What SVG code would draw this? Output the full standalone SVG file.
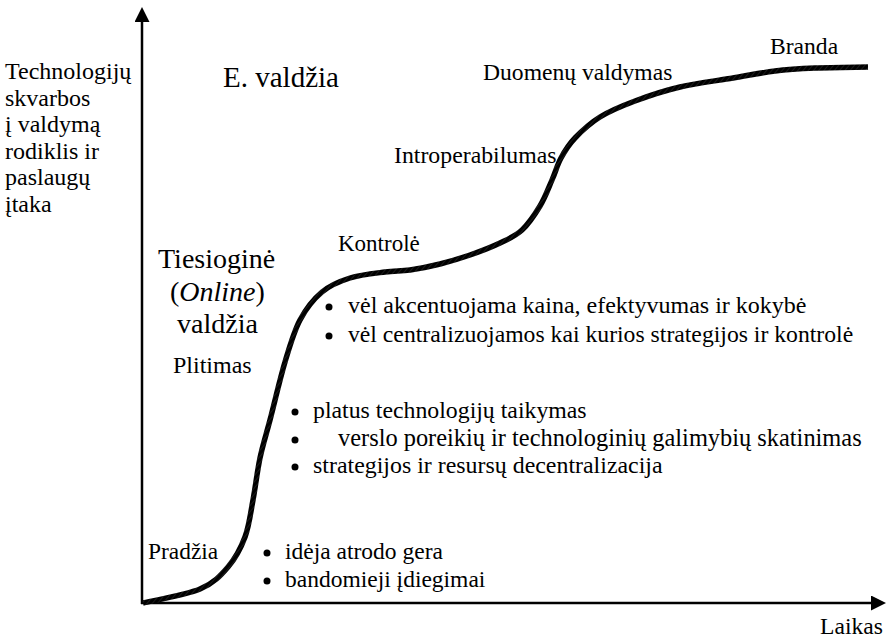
<svg xmlns="http://www.w3.org/2000/svg" width="890" height="639" viewBox="0 0 890 639">
  <style>
    .axis { stroke: #000; stroke-width: 2.5; fill: none; }
    .curve { stroke: url(#rope); stroke-width: 5.5; fill: none; stroke-linecap: butt; stroke-linejoin: round; }
    .dot { fill: #000; }
  </style>
  <defs>
    <marker id="arrow" viewBox="0 0 15 15" refX="0" refY="7.5" markerWidth="15" markerHeight="15" markerUnits="userSpaceOnUse" orient="auto">
      <path d="M0,0 L15,7.5 L0,15 Z" fill="#000"/>
    </marker>
    <!-- twisted-rope texture for the growth curve -->
    <pattern id="rope" patternUnits="userSpaceOnUse" width="4" height="4" patternTransform="rotate(40)">
      <rect width="4" height="4" fill="#000"/>
      <line x1="0" y1="0" x2="0" y2="4" stroke="#5a5a5a" stroke-width="0.6"/>
    </pattern>
  </defs>

  <g id="connectors">
    <line class="axis" x1="142" y1="604" x2="142" y2="22" marker-end="url(#arrow)"/>
    <line class="axis" x1="141" y1="603" x2="871" y2="603" marker-end="url(#arrow)"/>
    <path id="growth-curve" class="curve" d="M143,603 C152.5,600.7 185.8,595 200,589 C214.2,583 220.5,575.7 228,567 C235.5,558.3 240.8,548.2 245,537 C249.2,525.8 250.5,513.2 253,500 C255.5,486.8 257.2,471.3 260,458 C262.8,444.7 265.8,436 270,420 C274.2,404 280,378.7 285,362 C290,345.3 293.8,331.7 300,320 C306.2,308.3 313.7,299 322,292 C330.3,285 339.5,281.3 350,278 C360.5,274.7 375,273.3 385,272 C395,270.7 400.8,271.3 410,270 C419.2,268.7 430,266.5 440,264 C450,261.5 460,258.5 470,255 C480,251.5 491.3,247.2 500,243 C508.7,238.8 515.3,236.2 522,230 C528.7,223.8 535,214.3 540,206 C545,197.7 548.5,188 552,180 C555.5,172 557.2,165 561,158 C564.8,151 568.5,144.8 575,138 C581.5,131.2 590,123.2 600,117 C610,110.8 621.7,106 635,101 C648.3,96 663.7,90.8 680,87 C696.3,83.2 717.2,80.7 733,78 C748.8,75.3 761.3,72.7 775,71 C788.7,69.3 799.5,68.7 815,68 C830.5,67.3 859.2,67.2 868,67"/>
  </g>

  <g id="y-axis-label">
    <text x="5" y="79" font-size="24" font-family="Liberation Serif">Technologijų</text>
    <text x="5" y="106" font-size="24" font-family="Liberation Serif">skvarbos</text>
    <text x="5" y="132" font-size="24" font-family="Liberation Serif">į valdymą</text>
    <text x="5" y="159" font-size="24" font-family="Liberation Serif">rodiklis ir</text>
    <text x="5" y="185" font-size="24" font-family="Liberation Serif">paslaugų</text>
    <text x="5" y="212" font-size="24" font-family="Liberation Serif">įtaka</text>
  </g>

  <g id="x-axis-label">
    <text x="820" y="634" font-size="23.6" font-family="Liberation Serif">Laikas</text>
  </g>

  <g id="e-government">
    <text x="223" y="87" font-size="29" font-family="Liberation Serif">E. valdžia</text>
  </g>

  <g id="online-government">
    <text x="158" y="268" font-size="28" font-family="Liberation Serif">Tiesioginė</text>
    <text x="170" y="301" font-size="28" font-family="Liberation Serif">(<tspan font-style="italic">Online</tspan>)</text>
    <text x="177" y="333" font-size="28" font-family="Liberation Serif">valdžia</text>
  </g>

  <g id="stage-start">
    <text x="148" y="559" font-size="23.4" font-family="Liberation Serif">Pradžia</text>
  </g>

  <g id="stage-spread">
    <text x="173" y="373" font-size="24" font-family="Liberation Serif">Plitimas</text>
  </g>

  <g id="stage-control">
    <text x="338" y="251" font-size="23" font-family="Liberation Serif">Kontrolė</text>
  </g>

  <g id="stage-interoperability">
    <text x="394" y="163" font-size="23.8" font-family="Liberation Serif">Introperabilumas</text>
  </g>

  <g id="stage-data">
    <text x="483" y="80" font-size="23.6" font-family="Liberation Serif">Duomenų valdymas</text>
  </g>

  <g id="stage-maturity">
    <text x="770" y="54" font-size="23.6" font-family="Liberation Serif">Branda</text>
  </g>

  <g id="notes-start">
    <circle class="dot" cx="267" cy="553" r="3.5"/>
    <text x="285" y="559" font-size="23.5" font-family="Liberation Serif">idėja atrodo gera</text>
    <circle class="dot" cx="267" cy="581" r="3.5"/>
    <text x="285" y="587" font-size="23.5" font-family="Liberation Serif">bandomieji įdiegimai</text>
  </g>

  <g id="notes-spread">
    <circle class="dot" cx="295" cy="412" r="3.5"/>
    <text x="313" y="418" font-size="23.8" font-family="Liberation Serif">platus technologijų taikymas</text>
    <circle class="dot" cx="295" cy="440" r="3.5"/>
    <text x="338" y="446" font-size="24.4" font-family="Liberation Serif">verslo poreikių ir technologinių galimybių skatinimas</text>
    <circle class="dot" cx="295" cy="467" r="3.5"/>
    <text x="313" y="473" font-size="23.9" font-family="Liberation Serif">strategijos ir resursų decentralizacija</text>
  </g>

  <g id="notes-control">
    <circle class="dot" cx="329" cy="307" r="3.5"/>
    <text x="348" y="313" font-size="24" font-family="Liberation Serif">vėl akcentuojama kaina, efektyvumas ir kokybė</text>
    <circle class="dot" cx="329" cy="336" r="3.5"/>
    <text x="348" y="342" font-size="23.7" font-family="Liberation Serif">vėl centralizuojamos kai kurios strategijos ir kontrolė</text>
  </g>
</svg>
